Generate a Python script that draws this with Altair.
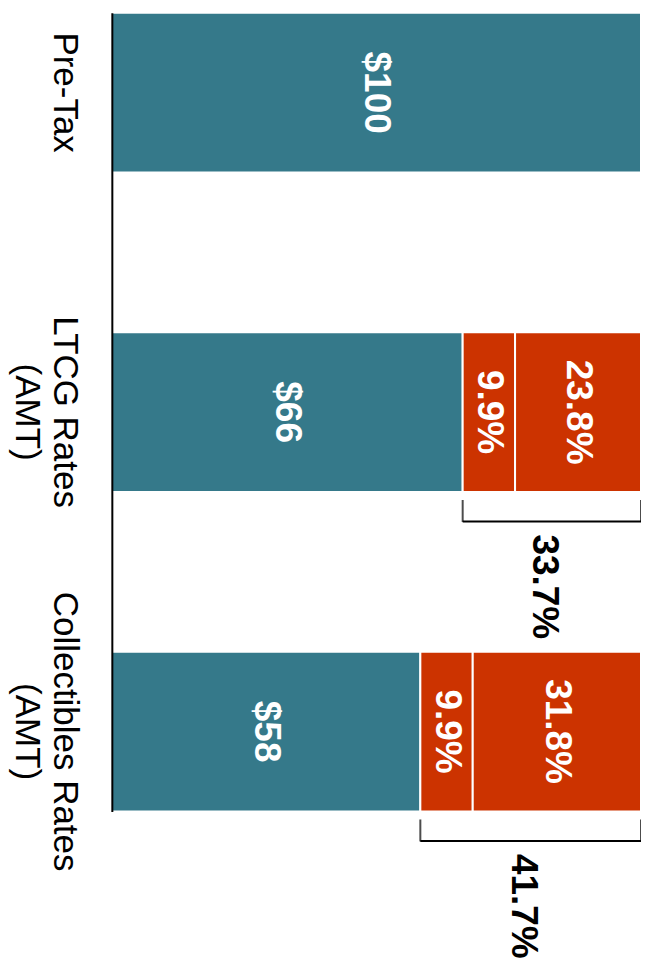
import altair as alt
import pandas as pd

categories = ["Pre-Tax", "LTCG Rates\n(AMT)", "Collectibles Rates\n(AMT)"]
after_tax = [100.0, 66.3, 58.3]
after_tax_labels = ["$100", "$66", "$58"]
tax_a = [0.0, 9.9, 9.9]
tax_a_labels = ["", "9.9%", "9.9%"]
tax_b = [0.0, 23.8, 31.8]
tax_b_labels = ["", "23.8%", "31.8%"]
total_tax_labels = ["", "33.7%", "41.7%"]

segments = ["after_tax", "tax_a", "tax_b"]
seg_colors = ["#35798A", "#CC3300", "#CC3300"]

rows = []
for i, cat in enumerate(categories):
    start = 0.0
    for seg, vals, labs in [("after_tax", after_tax, after_tax_labels),
                            ("tax_a", tax_a, tax_a_labels),
                            ("tax_b", tax_b, tax_b_labels)]:
        v = vals[i]
        if v > 0:
            rows.append({"category": cat, "segment": seg, "start": start,
                         "end": start + v, "mid": start + v / 2, "label": labs[i]})
        start += v
seg_df = pd.DataFrame(rows)

br_rows = []
tick_rows = []
for i, cat in enumerate(categories):
    if total_tax_labels[i]:
        s = after_tax[i]
        e = after_tax[i] + tax_a[i] + tax_b[i]
        br_rows.append({"category": cat, "bstart": s, "bend": e, "mid": (s + e) / 2,
                        "label": total_tax_labels[i]})
        tick_rows.append({"category": cat, "pos": s})
        tick_rows.append({"category": cat, "pos": e})
br_df = pd.DataFrame(br_rows)
tick_df = pd.DataFrame(tick_rows)

FONT = "Liberation Sans"

y_enc = alt.Y(
    "category:N",
    sort=categories,
    scale=alt.Scale(domain=categories, paddingInner=0.5, paddingOuter=0),
    axis=alt.Axis(
        title=None, labelAngle=90, labelFontSize=35, labelFont=FONT, labelColor="black",
        ticks=False, domainColor="black", domainWidth=2, labelPadding=30,
        labelExpr="split(datum.label, '\\n')", labelLineHeight=38,
        labelAlign="center", labelBaseline="top", labelLimit=0, grid=False, zindex=1,
    ),
)
x_scale = alt.Scale(domain=[0, 100], nice=False, zero=True)

bars = alt.Chart(seg_df).mark_bar(stroke="white", strokeWidth=2).encode(
    y=y_enc,
    x=alt.X("start:Q", scale=x_scale, axis=None),
    x2="end:Q",
    color=alt.Color("segment:N", scale=alt.Scale(domain=segments, range=seg_colors), legend=None),
)

bar_text = alt.Chart(seg_df).mark_text(
    angle=90, align="center", baseline="middle", fontSize=37, fontWeight="bold",
    font=FONT, color="white",
).encode(y=alt.Y("category:N", sort=categories), x=alt.X("mid:Q"), text="label:N")

ticks = alt.Chart(tick_df).mark_tick(
    orient="vertical", size=22, thickness=2, color="black", yOffset=99,
).encode(y=alt.Y("category:N", sort=categories), x=alt.X("pos:Q"))

hline = alt.Chart(br_df).mark_rule(color="black", strokeWidth=2, yOffset=109.5).encode(
    y=alt.Y("category:N", sort=categories), x=alt.X("bstart:Q"), x2="bend:Q"
)

br_text = alt.Chart(br_df).mark_text(
    angle=90, align="center", baseline="middle", fontSize=37, fontWeight="bold",
    font=FONT, color="black", yOffset=175, xOffset=-8,
).encode(y=alt.Y("category:N", sort=categories), x=alt.X("mid:Q"), text="label:N")

chart = alt.layer(bars, bar_text, ticks, hline, br_text).properties(
    width=530, height=800,
    autosize=alt.AutoSizeParams(type="none"),
    padding={"left": 104, "top": 4, "right": 0, "bottom": 148},
).configure_view(stroke=None)

chart.save("out.html", embed_options={"renderer": "svg", "actions": False})
